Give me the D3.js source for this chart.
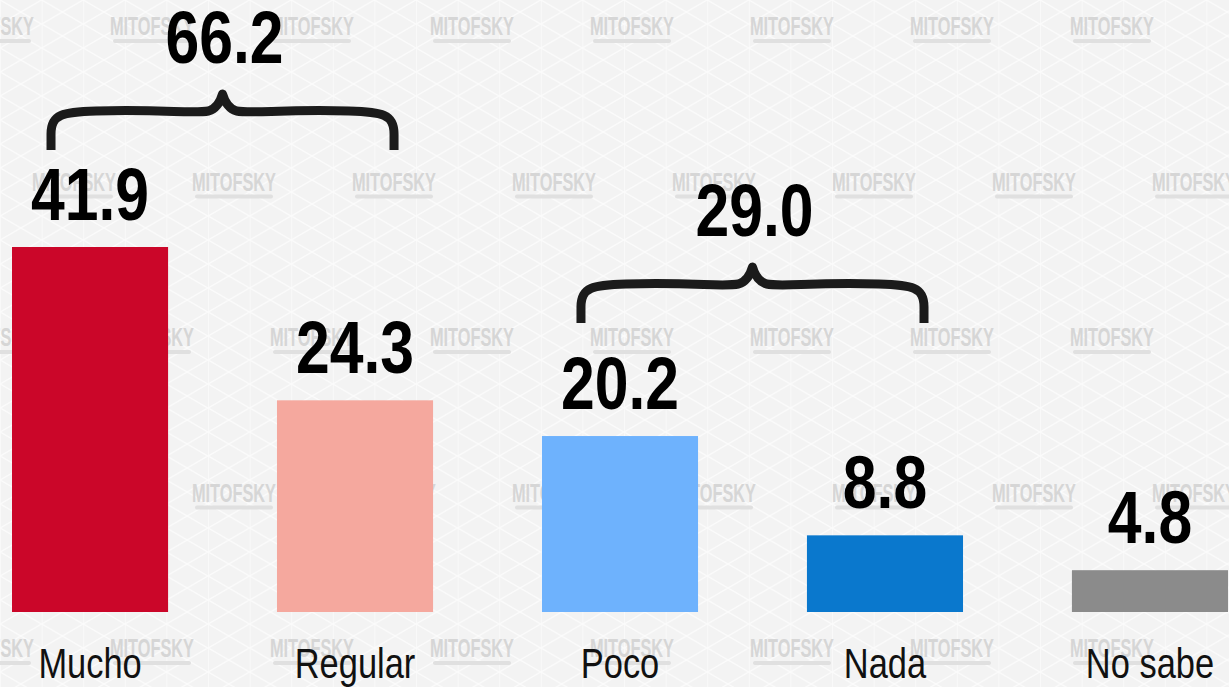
<!DOCTYPE html>
<html>
<head>
<meta charset="utf-8">
<script src="https://cdn.jsdelivr.net/npm/d3@7"></script>
<style>
  html, body { margin: 0; padding: 0; background: #f4f4f4; }
  svg { display: block; }
  .value-label { font-family: "Liberation Sans", Arial, sans-serif; font-weight: bold; font-size: 74px; fill: #000; }
  .cat-label { font-family: "Liberation Sans", Arial, sans-serif; font-size: 42px; fill: #111; }
  .mark { font-family: "Liberation Sans", sans-serif; font-weight: bold; font-size: 25px; fill: #d6d6d6; }
  .brace { fill: none; stroke: #1b1b1b; stroke-width: 9; stroke-linejoin: round; }
</style>
</head>
<body>
<div id="chart"></div>
<script>
// survey answers and their shares (%)
const categories = ['Mucho', 'Regular', 'Poco', 'Nada', 'No sabe'];
const values = [41.9, 24.3, 20.2, 8.8, 4.8];
const barColors = ['#cb0629', '#f5a89e', '#6eb2fd', '#0a78cd', '#8b8b8b'];

// grouped totals shown above the curly braces
const groupMembers = [['Mucho', 'Regular'], ['Poco', 'Nada']];
const groupTotals = [66.2, 29.0];

const width = 1229;
const height = 687;
const narrow = 0.82;           // condensed look of the original typeface
const braceLift = [97, 113];   // gap between tallest bar of the group and brace ends

const svg = d3.select('#chart').append('svg')
    .attr('width', width)
    .attr('height', height);

// text squeezed horizontally around its anchor point
function narrowText(parent, cls, cx, cy, str) {
    parent.append('g')
        .attr('transform', `translate(${cx},${cy}) scale(${narrow},1)`)
        .append('text')
        .attr('class', cls)
        .attr('text-anchor', 'middle')
        .text(str);
}

// --- background: faint triangle lattice + watermark ---
const defs = svg.append('defs');
const tw = 41.6, th = 48;
const pat = defs.append('pattern')
    .attr('id', 'tri')
    .attr('patternUnits', 'userSpaceOnUse')
    .attr('width', tw).attr('height', th);
pat.append('rect').attr('width', tw).attr('height', th).attr('fill', '#f3f3f3');
pat.append('path')
    .attr('d', `M0,0 L0,${th} M0,0 L${tw},${th / 2} M0,${th / 2} L${tw},${th} M0,${th / 2} L${tw},0 M0,${th} L${tw},${th / 2}`)
    .attr('stroke', '#fbfbfb').attr('stroke-width', 1.5).attr('fill', 'none');

svg.append('rect').attr('width', width).attr('height', height).attr('fill', 'url(#tri)');

const gMark = svg.append('g');
for (let i = 0; i < 5; i++) {
    const yy = 26 + i * 155.5;
    for (let k = -1; k < 8; k++) {
        const xx = 152 + 160 * k - (i % 2) * 78;
        gMark.append('text')
            .attr('class', 'mark')
            .attr('x', xx - 42).attr('y', yy + 9)
            .attr('textLength', 84)
            .attr('lengthAdjust', 'spacingAndGlyphs')
            .text('MITOFSKY');
        gMark.append('rect')
            .attr('x', xx - 39).attr('y', yy + 13)
            .attr('width', 78).attr('height', 4)
            .attr('rx', 2)
            .attr('fill', '#e0e0e0');
    }
}

// --- scales ---
const x = d3.scaleBand()
    .domain(categories)
    .range([12, 1228])
    .paddingInner(0.411)
    .paddingOuter(0);

const y = d3.scaleLinear()
    .domain([0, 41.9])
    .range([612, 247]);

const data = categories.map((c, i) => ({cat: c, value: values[i], color: barColors[i]}));

// --- bars ---
svg.append('g').selectAll('rect')
    .data(data)
    .enter()
    .append('rect')
    .attr('x', d => x(d.cat))
    .attr('y', d => y(d.value))
    .attr('width', x.bandwidth())
    .attr('height', d => y(0) - y(d.value))
    .attr('fill', d => d.color);

const gLabels = svg.append('g');
data.forEach(d => {
    const cx = x(d.cat) + x.bandwidth() / 2;
    narrowText(gLabels, 'value-label', cx, y(d.value) - 27, d.value.toFixed(1));
    narrowText(gLabels, 'cat-label', cx, 678, d.cat);
});

// --- braces with group totals ---
function bracePath(x0, x1, ye) {
    const xm = (x0 + x1) / 2;
    const ya = ye - 38;     // arm height
    const yt = ye - 56;     // tip
    return `M${x0},${ye}
            L${x0},${ye - 16}
            C${x0},${ya + 2} ${x0 + 12},${ya} ${x0 + 45},${ya - 1}
            C${xm - 60},${ya - 3} ${xm - 30},${ya + 2} ${xm - 14},${ya - 1}
            Q${xm - 4},${ya - 4} ${xm},${yt}
            Q${xm + 4},${ya - 4} ${xm + 14},${ya - 1}
            C${xm + 30},${ya + 2} ${xm + 60},${ya - 3} ${x1 - 45},${ya - 1}
            C${x1 - 12},${ya} ${x1},${ya + 2} ${x1},${ye - 16}
            L${x1},${ye}`;
}

groupMembers.forEach((members, i) => {
    const bw = x.bandwidth();
    const x0 = x(members[0]) + bw * 0.25;
    const x1 = x(members[members.length - 1]) + bw * 0.75;
    const top = d3.max(members, m => values[categories.indexOf(m)]);
    const ye = y(top) - braceLift[i];

    svg.append('path')
        .attr('class', 'brace')
        .attr('d', bracePath(x0, x1, ye));

    narrowText(svg, 'value-label', (x0 + x1) / 2 + 2, ye - 87, groupTotals[i].toFixed(1));
});
</script>
</body>
</html>
